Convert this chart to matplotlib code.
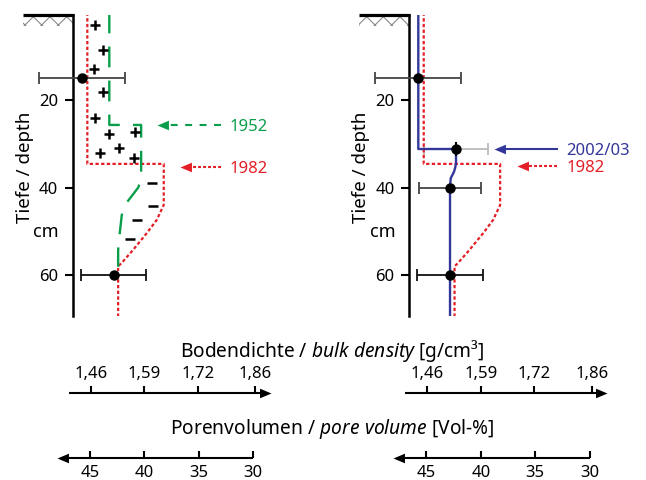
import matplotlib.pyplot as plt
from matplotlib.patches import Rectangle

plt.rcParams['font.family'] = ['Noto Sans', 'DejaVu Sans']
plt.rcParams['mathtext.fontset'] = 'custom'
plt.rcParams['mathtext.rm'] = 'Noto Sans'
plt.rcParams['mathtext.it'] = 'Noto Sans:italic'
plt.rcParams['lines.scale_dashes'] = False
plt.rcParams['hatch.linewidth'] = 0.8

RED = '#e41e26'
GREEN = '#0a9e4a'
BLUE = '#33379a'

# --- data (bulk density g/cm3 against depth cm) ---
depth_ticks = [20, 40, 60]
pore_ticks = [45, 40, 35, 30]                 # Vol-%
dens_ticks = [1.46, 1.59, 1.72, 1.86]
dens_labels = ['1,46', '1,59', '1,72', '1,86']

p1982_dens = [1.451, 1.451, 1.637, 1.637, 1.620, 1.596, 1.562, 1.534, 1.526, 1.526]
p1982_depth = [0, 34.6, 34.6, 44.0, 47.4, 50.4, 54.3, 57.3, 58.0, 70]

p1952_dens = [1.5045, 1.5045, 1.582, 1.582, 1.579, 1.575, 1.544, 1.535, 1.529, 1.526, 1.526]
p1952_depth = [0, 25.7, 25.7, 37.1, 38.8, 40.0, 43.8, 46.2, 51.2, 54.3, 58.1]

p2002_dens = [1.4378, 1.4378, 1.5296, 1.5296, 1.5275, 1.5247, 1.5167, 1.515, 1.515]
p2002_depth = [0, 31.2, 31.2, 34.5, 35.5, 36.4, 37.9, 39.8, 70]

plus_dens = [1.4697, 1.4884, 1.4680, 1.4884, 1.4697, 1.5045, 1.567, 1.5288, 1.4818, 1.5653]
plus_depth = [2.9, 8.6, 13.0, 18.1, 24.2, 27.8, 27.2, 30.9, 32.0, 33.2]
minus_dens = [1.609, 1.610, 1.571, 1.555]
minus_depth = [39.0, 44.2, 47.4, 51.8]

left_meas_dens = [1.4375, 1.515]
left_meas_depth = [15, 60]
left_meas_err = [0.104, 0.080]
left_meas_col = ['#444444', '#111111']

right_meas_dens = [1.4375, 1.515, 1.515]
right_meas_depth = [15, 40, 60]
right_meas_err = [0.104, 0.0755, 0.080]
right_meas_col = ['#444444', '#444444', '#111111']
grey_meas = (1.530, 31.2, 0.078)

# --- layout helpers (pixel based, 646x480 canvas) ---
W, H = 646, 480
DENS_LIM = (1.2871, 1.9687)
DEPTH_LIM = (69.37, 0.57)
AXIS_DENS = 1.4161
SURF_DENS = 1.2944


def rect(x0, y0, x1, y1):
    return [x0 / W, 1 - y1 / H, (x1 - x0) / W, (y1 - y0) / H]


def arrow(ax, tip, tail, color, dashes=None, lw=1.5, transform=None):
    tr = ax.transData if transform is None else transform
    sgn = 1 if tail[0] > tip[0] else -1
    kw = dict(color=color, lw=lw, transform=tr, clip_on=False,
              solid_capstyle='butt', dash_capstyle='butt')
    if dashes is not None:
        kw['dashes'] = dashes
    ax.plot([tail[0], tip[0] + sgn * 0.014], [tail[1], tip[1]], **kw)
    head = [(0, 0), (sgn, 0.42), (sgn, -0.42), (0, 0)]
    ax.plot([tip[0]], [tip[1]], marker=head, ms=16.5, mew=0, color=color,
            transform=tr, clip_on=False, zorder=6)


def profile_axes(fig, xoff):
    ax = fig.add_axes(rect(20 + xoff, 15, 300 + xoff, 316))
    ax.set_xlim(DENS_LIM)
    ax.set_ylim(DEPTH_LIM)
    for s in ['top', 'right', 'bottom']:
        ax.spines[s].set_visible(False)
    ax.spines['left'].set_position(('data', AXIS_DENS))
    ax.spines['left'].set_linewidth(1.8)
    ax.set_xticks([])
    ax.set_yticks(depth_ticks)
    ax.tick_params(axis='y', length=5.8, width=1.5, labelsize=12, pad=5)
    ax.patch.set_visible(False)
    # soil surface
    top = DEPTH_LIM[1]
    ax.add_patch(Rectangle((SURF_DENS, top), AXIS_DENS - SURF_DENS, 2.5,
                           facecolor='none', edgecolor='#8a8a8a', lw=0,
                           hatch='xx', clip_on=False))
    ax.plot([SURF_DENS, AXIS_DENS + 0.002], [top, top], color='black', lw=2.3,
            solid_capstyle='butt', clip_on=False)
    fig.text((25 + xoff) / W, 1 - 167 / H, 'Tiefe / depth', rotation=90,
             ha='center', va='center', fontsize=13.5)
    fig.text((46 + xoff) / W, 1 - 232 / H, 'cm', ha='center', va='center',
             fontsize=13)
    return ax


def scale_axes(fig, xoff):
    # bulk density (arrow to the right, labels above)
    ax = fig.add_axes(rect(20 + xoff, 393, 300 + xoff, 403))
    ax.set_xlim(DENS_LIM)
    ax.set_frame_on(False)
    ax.set_yticks([])
    ax.xaxis.tick_top()
    ax.set_xticks(dens_ticks, dens_labels)
    ax.tick_params(axis='x', direction='out', length=5.2, width=1.5,
                   labelsize=12, pad=2.5)
    arrow(ax, (1.8974, 1), (1.4064, 1), 'black', transform=ax.get_xaxis_transform())
    # pore volume (arrow to the left, labels below)
    ax2 = fig.add_axes(rect(20 + xoff, 447.7, 300 + xoff, 457.7))
    ax2.set_xlim(DENS_LIM)
    ax2.set_frame_on(False)
    ax2.set_yticks([])
    ax2.set_xticks([2.65 * (1 - p / 100) for p in pore_ticks],
                   [str(p) for p in pore_ticks])
    ax2.tick_params(axis='x', direction='in', length=5.2, width=1.5,
                    labelsize=12, pad=5)
    arrow(ax2, (1.3772, 0), (1.855, 0), 'black', transform=ax2.get_xaxis_transform())


def measurements(ax, dens, depth, err, cols):
    for d, z, e, c in zip(dens, depth, err, cols):
        ax.errorbar(d, z, xerr=e, fmt='o', color='black', ms=6.5, ecolor=c,
                    elinewidth=1.3, capsize=4, capthick=1.3, clip_on=False, zorder=5)


def label(ax, text, x, depth, color):
    ax.annotate(text, xy=(x, depth), xytext=(0, -4.6), textcoords='offset points',
                color=color, fontsize=12, va='baseline', annotation_clip=False)


fig = plt.figure(figsize=(W / 100, H / 100), dpi=100)

# ---- left panel: 1952 vs 1982 ----
axl = profile_axes(fig, 0)
axl.plot(p1982_dens, p1982_depth, color=RED, lw=1.6, dashes=(2.4, 1.7))
axl.plot(p1952_dens, p1952_depth, color=GREEN, lw=1.7, dashes=(15, 9.5))
axl.plot(plus_dens, plus_depth, ls='none', marker='+', ms=7, mew=1.8, color='black')
axl.plot(minus_dens, minus_depth, ls='none', marker='_', ms=7, mew=1.8, color='black')
measurements(axl, left_meas_dens, left_meas_depth, left_meas_err, left_meas_col)

arrow(axl, (1.6213, 25.7), (1.7764, 25.7), GREEN, dashes=(5, 5.4))
label(axl, '1952', 1.7976, 25.7, GREEN)
arrow(axl, (1.6766, 35.25), (1.7764, 35.25), RED, dashes=(2.1, 1.5))
label(axl, '1982', 1.7976, 35.25, RED)

# ---- right panel: 2002/03 vs 1982 ----
axr = profile_axes(fig, 336.4)
axr.plot(p1982_dens, p1982_depth, color=RED, lw=1.6, dashes=(2.4, 1.7))
gd, gz, ge = grey_meas
axr.errorbar(gd, gz, xerr=ge, fmt='none', ecolor='#bbbbbb', elinewidth=1.3,
             capsize=4, capthick=1.3, zorder=1)
axr.plot(p2002_dens, p2002_depth, color=BLUE, lw=1.7, zorder=3)
axr.plot(gd, gz, 'o', color='black', ms=6.5, zorder=5)
axr.plot(gd, gz, '|', color='black', ms=10, mew=1.5, zorder=5)
measurements(axr, right_meas_dens, right_meas_depth, right_meas_err, right_meas_col)

arrow(axr, (1.622, 31.2), (1.778, 31.2), BLUE)
label(axr, '2002/03', 1.7976, 31.2, BLUE)
arrow(axr, (1.6773, 35.1), (1.776, 35.1), RED, dashes=(2.1, 1.5))
label(axr, '1982', 1.7976, 35.1, RED)

# ---- shared scales below ----
scale_axes(fig, 0)
scale_axes(fig, 336.4)
fig.text(332 / W, 1 - 356.7 / H, 'Bodendichte / $\\mathit{bulk\\ density}$ [g/cm³]',
         ha='center', va='baseline', fontsize=13.8)
fig.text(332 / W, 1 - 434.3 / H, 'Porenvolumen / $\\mathit{pore\\ volume}$ [Vol-%]',
         ha='center', va='baseline', fontsize=13.8)

fig.savefig('out.png', dpi=100)
